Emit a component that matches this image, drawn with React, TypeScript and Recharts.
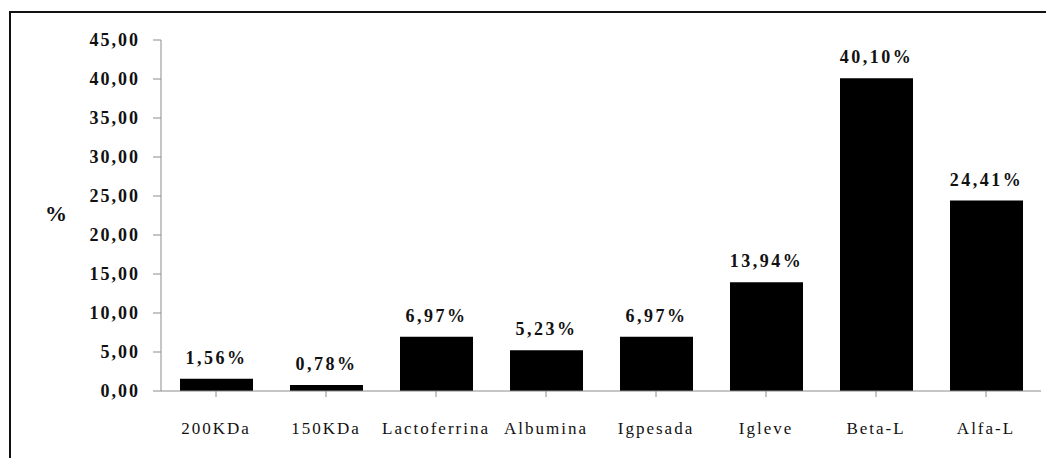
import React from 'react'
import { BarChart, Bar, XAxis, YAxis, LabelList } from 'recharts'

const proteins = ['200KDa', '150KDa', 'Lactoferrina', 'Albumina', 'Igpesada', 'Igleve', 'Beta-L', 'Alfa-L']
const shares = [1.56, 0.78, 6.97, 5.23, 6.97, 13.94, 40.1, 24.41]
const yTicks = [0, 5, 10, 15, 20, 25, 30, 35, 40, 45]

const data = proteins.map((name, i) => ({ name, value: shares[i] }))

const serif = 'Liberation Serif'
const axisGray = '#8c8c8c'

const comma = (v: number) => v.toFixed(2).replace('.', ',')

const YTick = ({ x, y, payload }: any) => (
  <text x={x} y={y} dy="0.355em" textAnchor="end" fill="#111" fontSize={18} fontWeight="bold" fontFamily={serif} letterSpacing={2}>
    {comma(payload.value)}
  </text>
)

const XTick = ({ x, y, payload }: any) => (
  <text x={x} y={y} dy="0.71em" textAnchor="middle" fill="#111" fontSize={17} fontFamily={serif} letterSpacing={2}>
    {payload.value}
  </text>
)

const TopLabel = ({ x, y, width, value }: any) => (
  <text x={x + width / 2} y={y - 15} textAnchor="middle" fill="#111" fontSize={18} fontWeight="bold" fontFamily={serif} letterSpacing={2.5}>
    {`${comma(value)}%`}
  </text>
)

export default function App() {
  return (
    <div style={{ position: 'relative', width: 1046, height: 450, fontFamily: serif }}>
      <div
        style={{
          position: 'absolute',
          left: 1,
          top: 3,
          width: 1046,
          height: 450,
          borderLeft: '2px solid #111',
          borderTop: '2px solid #111',
        }}
      />
      <div
        style={{
          position: 'absolute',
          left: 37,
          top: 193,
          fontSize: 22,
          fontWeight: 'bold',
          color: '#111',
        }}
      >
        %
      </div>
      <div style={{ position: 'absolute', left: 0, top: 0 }}>
        <BarChart
          width={1046}
          height={450}
          data={data}
          margin={{ top: 32, right: 13, left: 93, bottom: 37 }}
          barSize={73}
        >
          <YAxis
            width={60}
            domain={[0, 45]}
            ticks={yTicks}
            stroke={axisGray}
            tickSize={8}
            tickMargin={13}
            tick={<YTick />}
          />
          <XAxis
            dataKey="name"
            height={30}
            stroke={axisGray}
            tickSize={6}
            tickMargin={25}
            interval={0}
            tick={<XTick />}
          />
          <Bar dataKey="value" fill="#000" isAnimationActive={false}>
            <LabelList dataKey="value" content={<TopLabel />} />
          </Bar>
        </BarChart>
      </div>
    </div>
  )
}
